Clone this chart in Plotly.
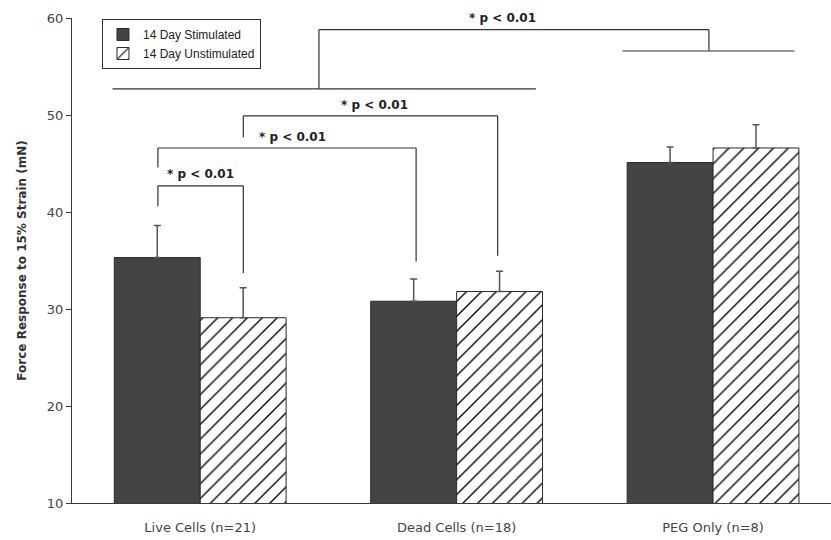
import plotly.graph_objects as go

# Group labels and measurements (mean force, mN, and SD upper error)
groups = ["Live Cells (n=21)", "Dead Cells (n=18)", "PEG Only (n=8)"]
stim_mean = [35.3, 30.8, 45.1]
stim_err = [3.3, 2.3, 1.6]
unstim_mean = [29.1, 31.8, 46.6]
unstim_err = [3.1, 2.1, 2.4]
y_ticks = [10, 20, 30, 40, 50, 60]

# Significance brackets: (x_left, x_right, level, left_end, right_end, label_x, label_y)
brackets = [
    (-0.165, 0.168, 42.7, 40.6, 33.7, 0.0, 43.9),
    (-0.165, 0.842, 46.6, 44.6, 34.9, 0.36, 47.7),
    (0.168, 1.16, 49.9, 47.7, 35.5, 0.68, 51.0),
]
label = "* p < 0.01"

AX = "#3a3a3a"
TXT = "#444444"
TICKFONT = "DejaVu Sans"

fig = go.Figure()
fig.add_trace(go.Bar(
    x=groups, y=stim_mean, name="14 Day Stimulated",
    marker=dict(color="#434445", line=dict(color="#2a2a2a", width=1)),
    error_y=dict(type="data", array=stim_err, arrayminus=[0] * len(stim_err),
                 symmetric=False, color="#555555", thickness=1.5, width=3.5),
))
fig.add_trace(go.Bar(
    x=groups, y=unstim_mean, name="14 Day Unstimulated",
    marker=dict(color="white", line=dict(color="#2a2a2a", width=1),
                pattern=dict(shape="/", fgcolor="#000000", fgopacity=1, bgcolor="white",
                             size=10.5, solidity=0.13)),
    error_y=dict(type="data", array=unstim_err, arrayminus=[0] * len(unstim_err),
                 symmetric=False, color="#555555", thickness=1.5, width=3.5),
))

shapes = []
annotations = []
for xl, xr, lvl, le, re_, tx, ty in brackets:
    shapes.append(dict(type="line", x0=xl, x1=xl, y0=le, y1=lvl))
    shapes.append(dict(type="line", x0=xl, x1=xr, y0=lvl, y1=lvl))
    shapes.append(dict(type="line", x0=xr, x1=xr, y0=lvl, y1=re_))
    annotations.append(dict(x=tx, y=ty, text=label, showarrow=False))

# Overall bracket: cell groups vs PEG only
shapes += [
    dict(type="line", x0=-0.342, x1=1.309, y0=52.7, y1=52.7),
    dict(type="line", x0=0.463, x1=0.463, y0=52.7, y1=58.8),
    dict(type="line", x0=0.463, x1=1.984, y0=58.8, y1=58.8),
    dict(type="line", x0=1.984, x1=1.984, y0=58.8, y1=56.6),
    dict(type="line", x0=1.647, x1=2.318, y0=56.6, y1=56.6),
]
annotations.append(dict(x=1.177, y=59.95, text=label, showarrow=False))

for s in shapes:
    s.update(xref="x", yref="y", line=dict(color="#333333", width=1.2), layer="above")
for a in annotations:
    a.update(xref="x", yref="y", font=dict(family=TICKFONT, size=12, color="#222222"),
             text="<b>" + a["text"] + "</b>")

annotations.append(dict(
    text="<b>Force Response to 15% Strain (mN)</b>", textangle=-90,
    xref="paper", yref="paper", x=-0.067, y=0.5, xanchor="center", yanchor="middle",
    showarrow=False, font=dict(family=TICKFONT, size=12, color="#333333"),
))

fig.update_layout(
    width=831, height=540,
    margin=dict(l=72, r=0, t=18, b=37),
    paper_bgcolor="white", plot_bgcolor="white",
    barmode="group", bargap=0.33, bargroupgap=0,
    shapes=shapes, annotations=annotations,
    legend=dict(x=0.0395, y=0.998, xanchor="left", yanchor="top",
                bordercolor="#333333", borderwidth=1, bgcolor="white",
                font=dict(family="Liberation Sans", size=12, color="#222222"),
                itemwidth=30, tracegroupgap=0),
    xaxis=dict(range=[-0.5, 2.46], showline=True, linecolor=AX, linewidth=1,
               ticks="", showgrid=False, zeroline=False, ticklabelstandoff=12,
               tickfont=dict(family=TICKFONT, size=13, color=TXT)),
    yaxis=dict(range=[10, 60], tickvals=y_ticks, showline=True, linecolor=AX,
               linewidth=1, ticks="outside", ticklen=5, tickcolor=AX,
               showgrid=False, zeroline=False,
               tickfont=dict(family=TICKFONT, size=13, color=TXT)),
)

fig.write_html("out.html")
